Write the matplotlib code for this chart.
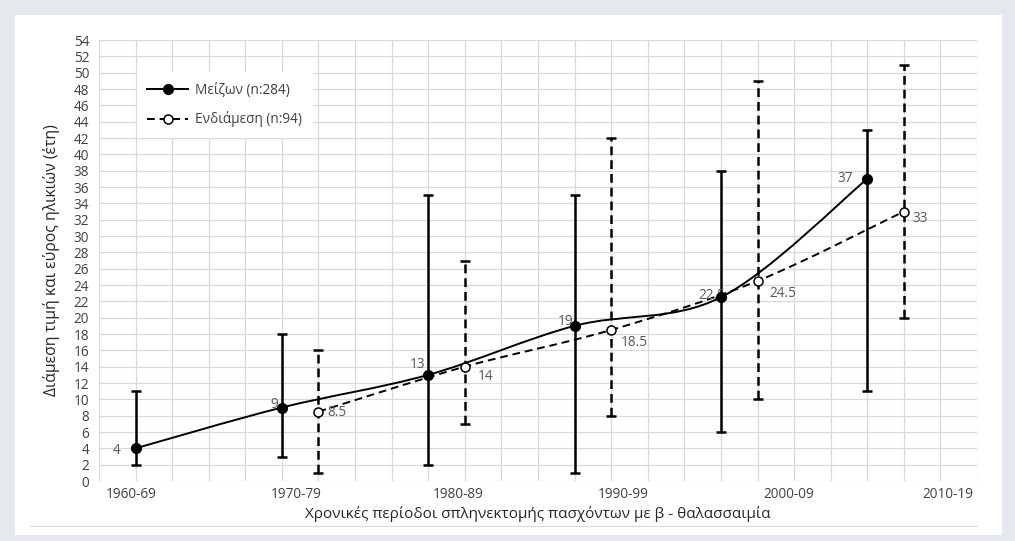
import numpy as np
import matplotlib.pyplot as plt
from matplotlib.path import Path
from matplotlib.patches import PathPatch, Rectangle
from matplotlib.lines import Line2D

plt.rcParams['font.family'] = ['Open Sans', 'DejaVu Sans']

# categories / positions on the grid (one category = 4 grid steps)
PERIODS = ["1960-69", "1970-79", "1980-89", "1990-99", "2000-09", "2010-19"]
PERIOD_POS = [0.87, 5.38, 9.81, 14.34, 18.85, 23.2]

# Μείζων (n:284)
MAJ_X = [1, 5, 9, 13, 17, 21]
MAJ_MED = [4, 9, 13, 19, 22.5, 37]
MAJ_MIN = [2, 3, 2, 1, 6, 11]
MAJ_MAX = [11, 18, 35, 35, 38, 43]
MAJ_LABELS = ["4", "9", "13", "19", "22.5", "37"]

# Ενδιάμεση (n:94)
INT_X = [6, 10, 14, 18, 22]
INT_MED = [8.5, 14, 18.5, 24.5, 33]
INT_MIN = [1, 7, 8, 10, 20]
INT_MAX = [16, 27, 42, 49, 51]
INT_LABELS = ["8.5", "14", "18.5", "24.5", "33"]

# label offsets in pixels (dx, dy)
MAJ_OFF = [(-15, -2), (-4, 3), (-3, 10), (-1, 4), (4, 2), (-14, 0)]
INT_OFF = [(9, -1), (13, -10), (10, -13), (12, -13), (9, -7)]


def smooth_path(xs, ys):
    # Excel-like smoothed line: Catmull-Rom turned into cubic Bezier segments
    pts = np.column_stack([xs, ys]).astype(float)
    n = len(pts)
    verts = [pts[0]]
    codes = [Path.MOVETO]
    for i in range(n - 1):
        p0 = pts[i - 1] if i > 0 else pts[i]
        p1 = pts[i]
        p2 = pts[i + 1]
        p3 = pts[i + 2] if i + 2 < n else pts[i + 1]
        c1 = p1 + (p2 - p0) / 6.0
        c2 = p2 - (p3 - p1) / 6.0
        verts += [c1, c2, p2]
        codes += [Path.CURVE4] * 3
    return Path(verts, codes)


fig = plt.figure(figsize=(10.15, 5.41), dpi=100)
fig.patch.set_facecolor("#e5e9ee")
fig.add_artist(Rectangle((0.0148, 0.011), 0.972, 0.961, transform=fig.transFigure,
                         facecolor="white", edgecolor="none", zorder=-5))
fig.add_artist(Line2D([0.03, 0.963], [0.0277, 0.0277], transform=fig.transFigure,
                      color="#dcdcdc", linewidth=0.8, zorder=-4))

ax = fig.add_axes([0.0975, 0.1109, 0.8651, 0.8151])
ax.set_zorder(2)
ax.set_facecolor("white")
ax.set_xlim(0, 24)
ax.set_ylim(0, 54)
ax.set_yticks(np.arange(0, 55, 2))
ax.set_xticks(PERIOD_POS)
ax.set_xticklabels(PERIODS)
for x in np.arange(0, 25, 1):
    ax.axvline(x, color="#d9d9d9", linewidth=0.9, zorder=0)
for y in np.arange(0, 55, 2):
    ax.axhline(y, color="#d9d9d9", linewidth=0.9, zorder=0)
for s in ax.spines.values():
    s.set_visible(False)
ax.tick_params(axis="both", which="both", length=0, labelsize=9.8, colors="#404040")
ax.tick_params(axis="y", pad=7)
ax.tick_params(axis="x", pad=4)

# smoothed lines
ax.add_patch(PathPatch(smooth_path(MAJ_X, MAJ_MED), transform=ax.transData, fill=False,
                       edgecolor="black", linewidth=1.4, zorder=3))
ax.add_patch(PathPatch(smooth_path(INT_X, INT_MED), transform=ax.transData, fill=False,
                       edgecolor="black", linewidth=1.4, linestyle=(0, (4, 2.5)), zorder=3))

# error bars
maj_err = [np.array(MAJ_MED) - np.array(MAJ_MIN), np.array(MAJ_MAX) - np.array(MAJ_MED)]
ax.errorbar(MAJ_X, MAJ_MED, yerr=maj_err, fmt="none", ecolor="black",
            elinewidth=1.8, capsize=3.5, capthick=1.8, zorder=4)
int_err = [np.array(INT_MED) - np.array(INT_MIN), np.array(INT_MAX) - np.array(INT_MED)]
eb2 = ax.errorbar(INT_X, INT_MED, yerr=int_err, fmt="none", ecolor="black",
                  elinewidth=1.8, capsize=3.5, capthick=1.8, zorder=4)
eb2[2][0].set_linestyle((0, (3.5, 2)))

# markers
ax.plot(MAJ_X, MAJ_MED, linestyle="none", marker="o", markersize=7,
        markerfacecolor="black", markeredgecolor="black", zorder=6)
ax.plot(INT_X, INT_MED, linestyle="none", marker="o", markersize=6.5,
        markerfacecolor="white", markeredgecolor="black", markeredgewidth=1.1, zorder=6)

# data labels
for x, y, t, (dx, dy) in zip(MAJ_X, MAJ_MED, MAJ_LABELS, MAJ_OFF):
    ax.annotate(t, (x, y), xytext=(dx, dy), textcoords="offset pixels",
                ha="right", va="center", fontsize=9.8, color="#595959", zorder=5)
for x, y, t, (dx, dy) in zip(INT_X, INT_MED, INT_LABELS, INT_OFF):
    ax.annotate(t, (x, y), xytext=(dx, dy), textcoords="offset pixels",
                ha="left", va="center", fontsize=9.8, color="#595959", zorder=5)

ax.set_xlabel("Χρονικές περίοδοι σπληνεκτομής πασχόντων με β - θαλασσαιμία",
              fontsize=11, color="#262626", labelpad=3)
ax.set_ylabel("Διάμεση τιμή και εύρος ηλικιών (έτη)", fontsize=11.3, color="#262626",
              labelpad=10)

handles = [
    Line2D([], [], color="black", linewidth=1.4, marker="o", markersize=7,
           markerfacecolor="black"),
    Line2D([], [], color="black", linewidth=1.4, linestyle=(0, (4, 2.5)), marker="o",
           markersize=6.5, markerfacecolor="white", markeredgewidth=1.1),
]
leg = ax.legend(handles, ["Μείζων (n:284)", "Ενδιάμεση (n:94)"],
                loc="upper left", bbox_to_anchor=(0.035, 0.943), frameon=True,
                fontsize=9.8, handlelength=3.0, handletextpad=0.5, labelspacing=1.0,
                borderpad=0.8, fancybox=False)
leg.get_frame().set_edgecolor("none")
leg.get_frame().set_facecolor("white")
leg.get_frame().set_alpha(1)
leg.set_zorder(7)
for t in leg.get_texts():
    t.set_color("#404040")

plt.savefig("out.png", dpi=100, facecolor=fig.get_facecolor())
plt.close()
